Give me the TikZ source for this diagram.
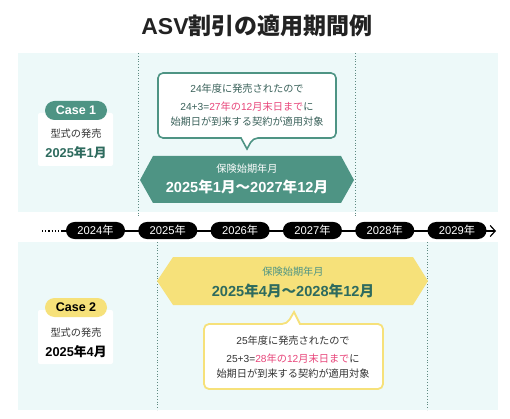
\documentclass[tikz,border=0pt]{standalone}
\usepackage{fontspec}
\setmainfont{Noto Sans CJK JP}
\newfontfamily\latn{Liberation Sans}
\usetikzlibrary{arrows.meta}
\definecolor{panelbg}{HTML}{EDF9F9}
\definecolor{tealmain}{HTML}{4E9484}
\definecolor{tealdark}{HTML}{2E6B5E}
\definecolor{tealtext}{HTML}{3A615A}
\definecolor{yellowmain}{HTML}{F6E17A}
\definecolor{pinkmark}{HTML}{E8457A}
\definecolor{guidegray}{HTML}{5F8A82}
\definecolor{titlegray}{HTML}{222222}
\definecolor{bodygray}{HTML}{333333}
\tikzset{
  yearpill/.style={fill=black, text=white, rounded corners=8.5pt, minimum width=59pt,
    minimum height=17pt, inner sep=0pt, font=\fontsize{11.2}{11}\selectfont},
  casepill/.style={rounded corners=9.5pt, minimum width=62pt, minimum height=19pt,
    inner sep=0pt, font=\fontsize{12.5}{12}\selectfont\latn\bfseries},
  guide/.style={guidegray, dotted, line width=0.8pt},
  smalltext/.style={anchor=base, font=\fontsize{10.2}{12}\selectfont},
  datetext/.style={anchor=base, font=\fontsize{12.8}{14}\selectfont\bfseries},
  periodtext/.style={anchor=base, font=\fontsize{14.6}{16}\selectfont\bfseries},
}
\begin{document}
\begin{tikzpicture}[x=1pt,y=-1pt]
    \useasboundingbox (0,0) rectangle (510,419);
    \node[anchor=base, text=titlegray, font=\fontsize{23}{24}\selectfont\bfseries] (title) at (257,35) {{\latn ASV}割引の適用期間例};

    \fill[panelbg] (18,53) rectangle (498,212);
    \fill[panelbg] (18,242) rectangle (498,410);
    \foreach \x/\a/\b in {138/53/218, 355/53/218, 157/242/410, 427/242/410} {
            \draw[guide] (\x,\a) -- (\x,\b);
        }

    \fill[white, rounded corners=2pt] (38,113) rectangle (113,166);
    \node[casepill, fill=tealmain, text=white] (case1) at (76,110.5) {Case 1};
    \node[smalltext, text=bodygray] (kind1) at (76,138) {型式の発売};
    \node[datetext, text=tealdark] (date1) at (76,158) {{\latn 2025}年{\latn 1}月};

    \draw[tealmain, line width=1.6pt, fill=white, rounded corners=5pt] (247,73) -- (336,73) -- (336,138) -- (253,138) [sharp corners] -- (247,149) -- (241,138) [rounded corners=5pt] -- (158,138) -- (158,73) -- cycle;
    \node[smalltext, text=tealtext] (note1a) at (247,93) {{\latn 24}年度に発売されたので};
    \node[smalltext, text=tealtext] (note1b) at (247,111) {{\latn 24+3=}\textcolor{pinkmark}{{\latn 27}年の{\latn 12}月末日まで}に};
    \node[smalltext, text=tealtext] (note1c) at (247,126) {始期日が到来する契約が適用対象};

    \fill[tealmain] (140,180) -- (153,156) -- (341,156) -- (354,180) -- (341,203) -- (153,203) -- cycle;
    \node[smalltext, text=white] (span1lbl) at (247,173) {保険始期年月};
    \node[periodtext, text=white] (span1) at (247,193) {{\latn 2025}年{\latn 1}月～{\latn 2027}年{\latn 12}月};

    \coordinate (tl0) at (42,231);
    \coordinate (tl1) at (62,231);
    \coordinate (tl2) at (496,231);
    \draw[line width=1.2pt, dotted] (tl0) -- (tl1);
    \draw[line width=1.2pt, -{Straight Barb[length=5pt,width=11pt]}] (tl1) -- (tl2);
    \foreach \i/\yr in {0/2024, 1/2025, 2/2026, 3/2027, 4/2028, 5/2029} {
            \node[yearpill] (y\yr) at (95.5+72.3*\i,230.5) {{\latn\yr}年};
        }

    \fill[yellowmain] (157,281) -- (173,257) -- (413,257) -- (428,281) -- (413,305) -- (173,305) -- cycle;
    \node[smalltext, text=tealmain] (span2lbl) at (293,275) {保険始期年月};
    \node[periodtext, text=tealdark] (span2) at (293,296) {{\latn 2025}年{\latn 4}月～{\latn 2028}年{\latn 12}月};

    \draw[yellowmain, line width=1.8pt, fill=white, rounded corners=5pt] (294,389) -- (204,389) -- (204,324) -- (287,324) [sharp corners] -- (294,312) -- (300,324) [rounded corners=5pt] -- (383,324) -- (383,389) -- cycle;
    \node[smalltext, text=bodygray] (note2a) at (293,344) {{\latn 25}年度に発売されたので};
    \node[smalltext, text=bodygray] (note2b) at (293,362) {{\latn 25+3=}\textcolor{pinkmark}{{\latn 28}年の{\latn 12}月末日まで}に};
    \node[smalltext, text=bodygray] (note2c) at (293,377) {始期日が到来する契約が適用対象};

    \fill[white, rounded corners=2pt] (38,310) rectangle (113,364);
    \node[casepill, fill=yellowmain, text=black] (case2) at (76,307.5) {Case 2};
    \node[smalltext, text=bodygray] (kind2) at (76,336) {型式の発売};
    \node[datetext, text=black] (date2) at (76,356) {{\latn 2025}年{\latn 4}月};
\end{tikzpicture}
\end{document}
